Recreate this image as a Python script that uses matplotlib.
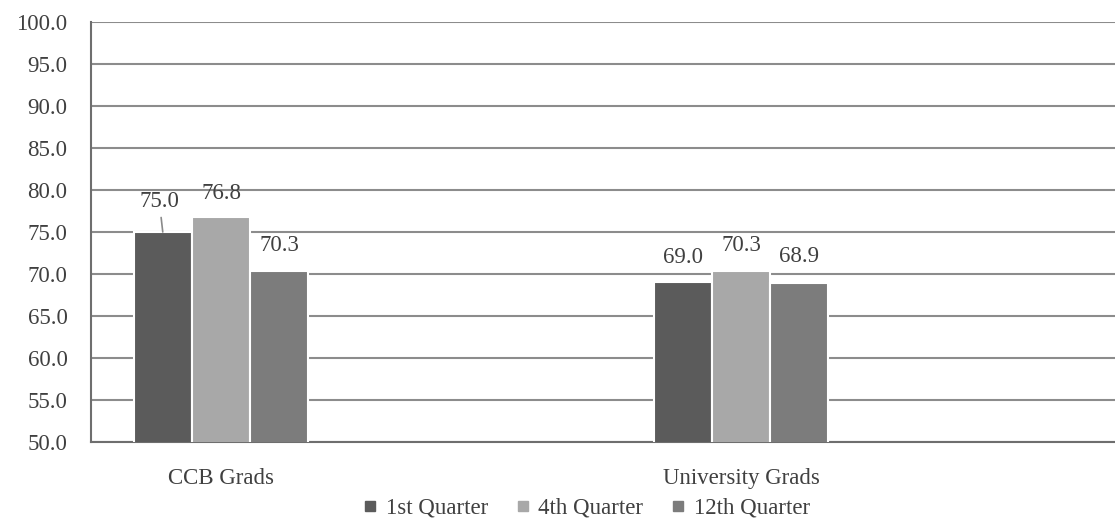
import numpy as np
import matplotlib
matplotlib.use('Agg')
import matplotlib.pyplot as plt
from matplotlib.lines import Line2D

plt.rcParams['font.family'] = ['Liberation Serif', 'DejaVu Serif']

# data
groups = ['CCB Grads', 'University Grads']
series = ['1st Quarter', '4th Quarter', '12th Quarter']
q1 = [75.0, 69.0]
q4 = [76.8, 70.3]
q12 = [70.3, 68.9]
colours = ['#5b5b5b', '#a8a8a8', '#7c7c7c']
text_col = '#404040'
fs = 16.5

fig = plt.figure(figsize=(11.15, 5.19), dpi=100)
ax = fig.add_axes([91/1115, 77/519, 1 - 91/1115, 420/519])

x = np.arange(len(groups))
w = 0.112
bars = []
for i, (vals, name) in enumerate(zip([q1, q4, q12], series)):
    b = ax.bar(x + (i - 1) * w, vals, w, color=colours[i], edgecolor='white',
               linewidth=1.5, label=name, zorder=3)
    bars.append(b)

# value labels (the 75.0 one is pulled up with a leader line)
offsets = {(0, 0): (-2.5, 22), (0, 1): (0, 17), (0, 2): (0, 19),
           (1, 0): (0, 18), (1, 1): (0, 19), (1, 2): (0, 19)}
for i, b in enumerate(bars):
    for j, rect in enumerate(b):
        h = rect.get_height()
        dx, dy = offsets[(j, i)]
        xc = rect.get_x() + rect.get_width() / 2
        if (j, i) == (0, 0):
            ax.annotate(f'{h:.1f}', xy=(xc, h), xytext=(dx, dy),
                        textcoords='offset points', ha='center', va='center',
                        fontsize=fs, color=text_col, zorder=5,
                        arrowprops=dict(arrowstyle='-', color='#8a8a8a', lw=1.2,
                                        shrinkA=2, shrinkB=0))
        else:
            ax.annotate(f'{h:.1f}', xy=(xc, h), xytext=(dx, dy),
                        textcoords='offset points', ha='center', va='center',
                        fontsize=fs, color=text_col, zorder=5)

ax.set_ylim(50, 100)
ax.set_yticks(np.arange(50, 100.1, 5))
ax.set_yticklabels([f'{v:.1f}' for v in np.arange(50, 100.1, 5)])
ax.set_xlim(-0.25, 1.719)
ax.set_xticks(x)
ax.set_xticklabels(groups)

ax.grid(axis='y', color='#8c8c8c', linewidth=1.5, zorder=0)
for s in ['top', 'right']:
    ax.spines[s].set_visible(False)
ax.spines['left'].set_color('#6e6e6e')
ax.spines['left'].set_linewidth(1.5)
ax.spines['bottom'].set_color('#6e6e6e')
ax.spines['bottom'].set_linewidth(1.5)
ax.tick_params(axis='y', length=0, pad=17, labelsize=fs, labelcolor=text_col)
ax.tick_params(axis='x', length=0, pad=19, labelsize=fs, labelcolor=text_col)

# square legend keys
handles = [Line2D([], [], linestyle='none', marker='s', markersize=6.5,
                  markerfacecolor=c, markeredgecolor=c) for c in colours]
fig.legend(handles, series, loc='center', bbox_to_anchor=(0.527, 0.021), ncol=3,
           frameon=False, fontsize=fs, handlelength=0.45,
           handletextpad=0.45, columnspacing=1.3, labelcolor=text_col,
           borderpad=0)

fig.savefig('out.png', dpi=100)
